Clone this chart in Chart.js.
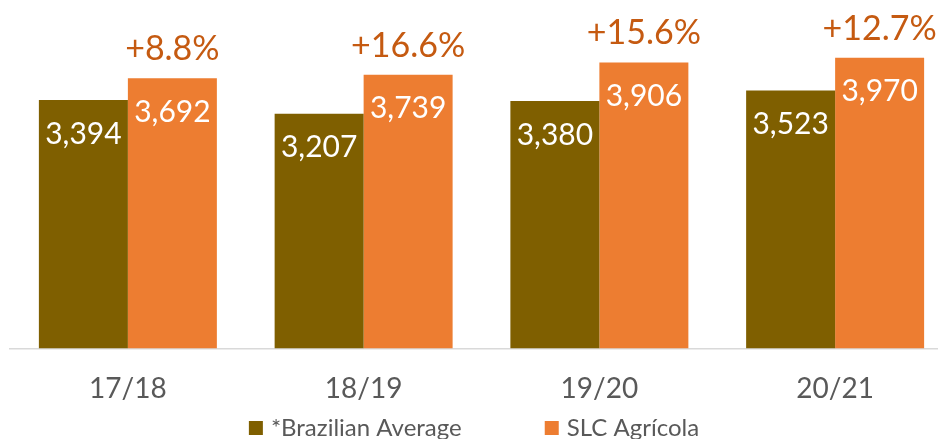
<!DOCTYPE html>
<html>
<head>
<meta charset="utf-8">
<script src="https://cdn.jsdelivr.net/npm/chart.js@4.4.1/dist/chart.umd.min.js"></script>
<style>
  html, body { margin: 0; padding: 0; background: #fff; overflow: hidden; }
  #wrap { width: 955px; height: 439px; }
</style>
</head>
<body>
<div id="wrap"><canvas id="yieldChart" width="955" height="439"></canvas></div>
<script>
const seasons = ["17/18", "18/19", "19/20", "20/21"];
const brazilAvg = [3394, 3207, 3380, 3523];
const slcYield = [3692, 3739, 3906, 3970];
const gapLabels = ["+8.8%", "+16.6%", "+15.6%", "+12.7%"];

const FONT = "Lato";
const BROWN = "#7F5F00";
const ORANGE = "#ED7D31";

function fmt(v) {
  return v.toLocaleString("en-US");
}

// white numbers inside the bars + orange gap above SLC bars
const barText = {
  id: "barText",
  afterDatasetsDraw(chart) {
    const ctx = chart.ctx;
    ctx.save();
    ctx.textAlign = "center";
    ctx.textBaseline = "middle";
    chart.data.datasets.forEach((ds, di) => {
      const meta = chart.getDatasetMeta(di);
      meta.data.forEach((bar, i) => {
        ctx.fillStyle = "#fff";
        ctx.font = "30px " + FONT;
        ctx.fillText(fmt(ds.data[i]), bar.x, bar.y + 34);
        if (di === 1) {
          ctx.fillStyle = "#C55A11";
          ctx.font = "34px " + FONT;
          ctx.fillText(gapLabels[i], bar.x, bar.y - 29);
        }
      });
    });
    ctx.restore();
  }
};

// legend row at the bottom
const legendRow = {
  id: "legendRow",
  afterDraw(chart) {
    const ctx = chart.ctx;
    ctx.save();
    ctx.font = "24px " + FONT;
    ctx.textBaseline = "middle";
    const items = chart.data.datasets.map(ds => ({ text: ds.label, color: ds.backgroundColor }));
    const box = 14, gapText = 8, gapItem = 83;
    let total = 0;
    items.forEach((it, i) => {
      it.w = ctx.measureText(it.text).width;
      total += box + gapText + it.w + (i ? gapItem : 0);
    });
    let x = 474 - total / 2;
    const cy = 428;
    items.forEach(it => {
      ctx.fillStyle = it.color;
      ctx.fillRect(x, cy - 7, box, box);
      x += box + gapText;
      ctx.fillStyle = "#595959";
      ctx.fillText(it.text, x, cy);
      x += it.w + gapItem;
    });
    ctx.restore();
  }
};

function draw() {
  const ctx = document.getElementById("yieldChart").getContext("2d");
  new Chart(ctx, {
    type: "bar",
    data: {
      labels: seasons,
      datasets: [
        { label: "*Brazilian Average", data: brazilAvg, backgroundColor: BROWN },
        { label: "SLC Agrícola", data: slcYield, backgroundColor: ORANGE }
      ]
    },
    options: {
      responsive: false,
      animation: false,
      devicePixelRatio: 1,
      layout: { padding: { top: 0, left: 10, right: 2, bottom: 9 } },
      datasets: { bar: { categoryPercentage: 0.755, barPercentage: 1 } },
      plugins: { legend: { display: false }, tooltip: { enabled: false } },
      scales: {
        y: { display: false, min: 0, max: 4760 },
        x: {
          grid: { display: false, drawTicks: false },
          border: { display: true, color: "#D9D9D9", width: 1.5 },
          ticks: { color: "#595959", font: { family: FONT, size: 28 }, padding: 24 }
        }
      }
    },
    plugins: [barText, legendRow]
  });
}

document.fonts.load("30px " + FONT).then(draw, draw);
</script>
</body>
</html>
